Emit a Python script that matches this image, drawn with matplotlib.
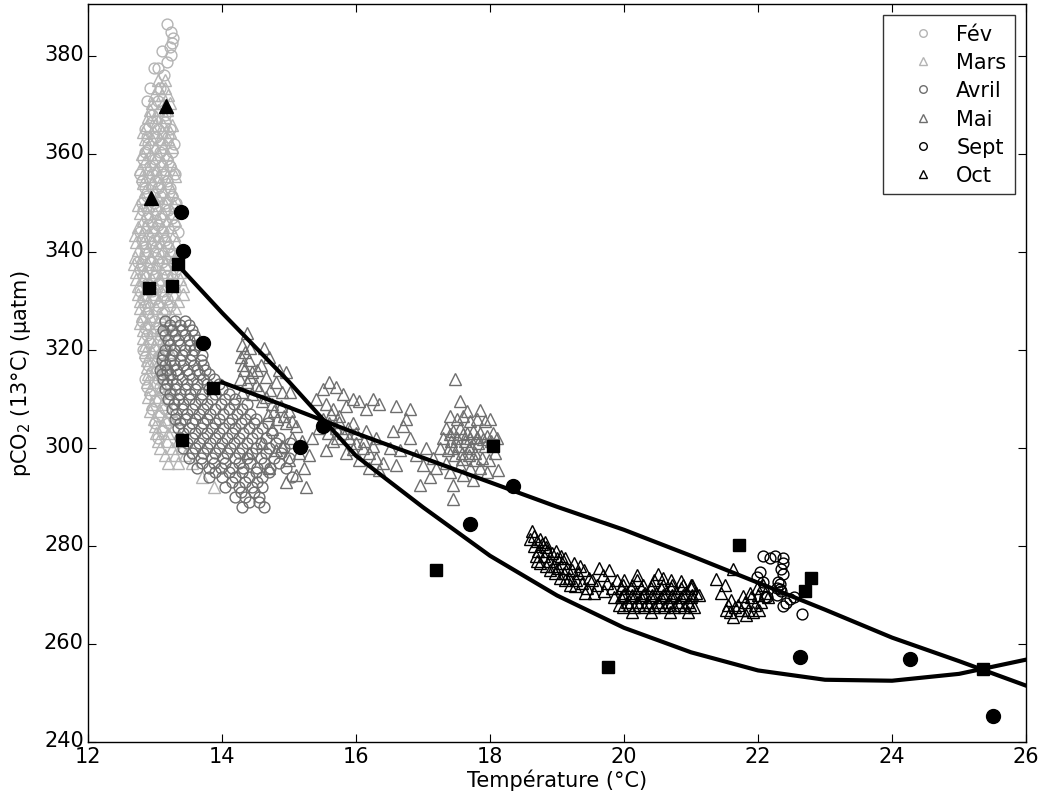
import numpy as np
import matplotlib
matplotlib.use('Agg')
from matplotlib import pyplot as plt
from matplotlib.transforms import ScaledTranslation

# ---- data (temperature degC, pCO2 uatm) ----
# clouds are given as rows: (pCO2, [temperatures on that row])
fev_rows = [
    (386.5, [13.18]), (384.8, [13.24]), (383.6, [13.27]), (382.6, [13.25]),
    (381.8, [13.22]), (381.0, [13.10]), (380.2, [13.24]), (378.7, [13.18]),
    (377.6, [12.99, 13.05]), (376.2, [13.13]), (373.5, [12.93, 13.08]),
    (370.9, [12.88, 13.05]),
    (368, [12.95, 13.15]), (365, [12.85, 13.05, 13.22]),
    (362, [12.90, 13.10, 13.28]), (359, [12.82, 13.00, 13.18]),
    (356, [12.78, 12.95, 13.12, 13.30]), (353, [12.85, 13.05, 13.22]),
    (350, [12.80, 12.98, 13.15, 13.32]), (347, [12.88, 13.08, 13.25]),
    (344, [12.78, 12.95, 13.12, 13.35]), (341, [12.85, 13.02, 13.20]),
    (338, [12.75, 12.92, 13.10, 13.28]), (335, [12.82, 13.00, 13.18]),
    (332, [12.78, 12.95, 13.12]), (329, [12.85, 13.05, 13.22]),
    (326, [12.80, 12.98, 13.15]), (323, [12.88, 13.08]),
    (320, [12.82, 13.00, 13.18]), (317, [12.90, 13.10]),
    (314, [12.85, 13.05]), (311, [12.92, 13.12]), (308, [12.95, 13.15]),
    (305, [13.00, 13.20]), (302, [13.05]),
    (366.5, [12.95, 13.15]), (363.5, [12.88, 13.02, 13.20]),
    (360.5, [12.85, 13.08, 13.25]), (357.5, [12.92, 13.10, 13.22]),
    (354.5, [12.80, 13.00, 13.18]), (351.5, [12.88, 13.08, 13.25]),
    (348.5, [12.82, 13.02, 13.20]), (345.5, [12.90, 13.05, 13.28]),
    (342.5, [12.80, 12.98, 13.15]), (339.5, [12.85, 13.05, 13.22]),
    (336.5, [12.78, 12.95, 13.15, 13.32]), (333.5, [12.88, 13.05, 13.22]),
    (330.5, [12.82, 13.00, 13.18]), (327.5, [12.90, 13.10]),
    (324.5, [12.85, 13.02, 13.20]), (321.5, [12.92, 13.12]),
    (318.5, [12.85, 13.05]), (315.5, [12.95, 13.15]), (312.5, [12.88, 13.08]),
    (309.5, [13.00, 13.20]), (306.5, [13.05]), (303.5, [13.10]),
]
mars_rows = [
    (375, [13.05, 13.15]), (372, [12.98, 13.10, 13.20]),
    (369, [12.92, 13.05, 13.18]), (366, [12.88, 13.00, 13.12, 13.25]),
    (363, [12.85, 12.95, 13.08, 13.20]), (360, [12.80, 12.92, 13.05, 13.18]),
    (357, [12.78, 12.90, 13.02, 13.15, 13.28]),
    (354, [12.82, 12.95, 13.08, 13.20]),
    (351, [12.80, 12.92, 13.05, 13.18, 13.30]),
    (348, [12.78, 12.88, 13.00, 13.12, 13.25]),
    (345, [12.75, 12.85, 12.98, 13.10, 13.22]),
    (342, [12.72, 12.82, 12.95, 13.08, 13.20, 13.32]),
    (339, [12.70, 12.80, 12.92, 13.05, 13.18, 13.30]),
    (336, [12.72, 12.85, 12.98, 13.10, 13.25, 13.38]),
    (333, [12.75, 12.88, 13.00, 13.15, 13.30, 13.42]),
    (330, [12.78, 12.90, 13.05, 13.20, 13.35]),
    (327, [12.80, 12.92, 13.08, 13.25]), (324, [12.82, 12.95, 13.10, 13.28]),
    (321, [12.85, 12.98, 13.12]), (318, [12.88, 13.00, 13.15]),
    (315, [12.90, 13.05, 13.20]), (312, [12.92, 13.08, 13.25]),
    (309, [12.95, 13.10]), (306, [12.98, 13.15, 13.30]),
    (303, [13.02, 13.20]), (300, [13.08, 13.25, 13.40]),
    (297, [13.20, 13.35, 13.55]), (294, [13.70]), (292, [13.88]),
    (373.5, [13.05, 13.15]), (370.5, [12.95, 13.12, 13.22]),
    (367.5, [12.90, 13.02, 13.15]), (364.5, [12.82, 12.98, 13.10, 13.22]),
    (361.5, [12.88, 13.00, 13.12, 13.25]), (358.5, [12.85, 12.98, 13.10, 13.22]),
    (355.5, [12.80, 12.92, 13.05, 13.18, 13.30]),
    (352.5, [12.85, 12.98, 13.12, 13.25]),
    (349.5, [12.75, 12.90, 13.02, 13.15, 13.28]),
    (346.5, [12.82, 12.95, 13.05, 13.18, 13.30]),
    (343.5, [12.70, 12.80, 12.92, 13.05, 13.15, 13.28]),
    (340.5, [12.75, 12.88, 13.00, 13.12, 13.25, 13.38]),
    (337.5, [12.68, 12.78, 12.90, 13.02, 13.15, 13.32]),
    (334.5, [12.72, 12.82, 12.95, 13.08, 13.22, 13.38]),
    (331.5, [12.75, 12.85, 12.98, 13.12, 13.28, 13.42]),
    (328.5, [12.78, 12.88, 13.02, 13.15, 13.30]),
    (325.5, [12.78, 12.90, 13.05, 13.20]), (322.5, [12.82, 12.92, 13.05, 13.20]),
    (319.5, [12.85, 12.95, 13.08, 13.22]), (316.5, [12.88, 13.02, 13.15]),
    (313.5, [12.88, 13.00, 13.15]), (310.5, [12.90, 13.05, 13.20]),
    (307.5, [12.92, 13.08, 13.22]), (304.5, [13.00, 13.12, 13.28]),
    (301.5, [13.05, 13.18, 13.35]), (298.5, [13.15, 13.30, 13.45]),
]
avril_rows = [
    (326, [13.15, 13.30, 13.45]), (324, [13.12, 13.25, 13.40, 13.55]),
    (322, [13.20, 13.35, 13.50, 13.62]), (320, [13.15, 13.28, 13.45, 13.58]),
    (318, [13.10, 13.22, 13.38, 13.52, 13.68]),
    (316, [13.08, 13.18, 13.32, 13.48, 13.62, 13.75]),
    (314, [13.12, 13.25, 13.40, 13.55, 13.72, 13.88]),
    (312, [13.15, 13.30, 13.45, 13.60, 13.80, 14.00]),
    (310, [13.20, 13.35, 13.50, 13.68, 13.85, 14.05, 14.20]),
    (308, [13.25, 13.40, 13.55, 13.72, 13.90, 14.10, 14.30]),
    (306, [13.30, 13.45, 13.60, 13.78, 13.95, 14.15, 14.35, 14.50]),
    (304, [13.35, 13.50, 13.68, 13.85, 14.02, 14.20, 14.40, 14.60]),
    (302, [13.38, 13.55, 13.72, 13.90, 14.08, 14.25, 14.45, 14.65, 14.85]),
    (300, [13.42, 13.60, 13.78, 13.95, 14.12, 14.30, 14.50, 14.70, 14.92]),
    (298, [13.50, 13.68, 13.85, 14.02, 14.20, 14.38, 14.58, 14.78, 15.00]),
    (296, [13.62, 13.80, 13.98, 14.15, 14.32, 14.52, 14.72, 14.95]),
    (294, [13.80, 14.00, 14.20, 14.40, 14.60, 15.05]),
    (292, [14.05, 14.25, 14.45, 14.60]), (290, [14.20, 14.35, 14.55]),
    (288, [14.30, 14.62]),
    (325, [13.22, 13.38, 13.50]), (323, [13.15, 13.30, 13.45, 13.58]),
    (321, [13.22, 13.38, 13.52, 13.65]), (319, [13.12, 13.25, 13.40, 13.55, 13.70]),
    (317, [13.15, 13.28, 13.42, 13.58, 13.72]),
    (315, [13.10, 13.22, 13.35, 13.50, 13.65, 13.80]),
    (313, [13.18, 13.32, 13.48, 13.62, 13.78, 13.95]),
    (311, [13.22, 13.38, 13.52, 13.70, 13.90, 14.10]),
    (309, [13.28, 13.42, 13.60, 13.78, 13.98, 14.18, 14.38]),
    (307, [13.32, 13.48, 13.65, 13.82, 14.02, 14.22, 14.42]),
    (305, [13.38, 13.55, 13.72, 13.90, 14.10, 14.28, 14.48, 14.68]),
    (303, [13.42, 13.60, 13.78, 13.95, 14.15, 14.32, 14.52, 14.75]),
    (301, [13.48, 13.65, 13.82, 14.00, 14.18, 14.38, 14.58, 14.80, 15.02]),
    (299, [13.55, 13.72, 13.90, 14.08, 14.25, 14.45, 14.65, 14.88]),
    (297, [13.70, 13.88, 14.05, 14.25, 14.42, 14.62, 14.85]),
    (295, [13.90, 14.10, 14.30, 14.50, 14.70]), (293, [14.15, 14.35, 14.52]),
    (291, [14.28, 14.48]), (289, [14.40, 14.55]),
]
mai_pts = [
    (14.37, 323.5), (14.30, 321), (14.42, 320.5), (14.28, 318.5), (14.40, 318),
    (14.33, 316), (14.45, 315.5), (14.27, 314), (14.38, 313.5), (14.50, 312.8),
    (14.30, 311.5), (14.45, 311), (14.62, 320.5), (14.70, 318.5), (14.58, 317),
    (14.85, 316), (14.95, 315.5), (14.65, 314.5), (14.80, 313.5), (14.55, 312),
    (14.72, 311.8), (14.90, 311.5), (15.02, 311.5), (14.60, 309.5), (14.75, 309),
    (14.88, 308.5), (15.00, 307.5), (14.68, 306.8), (14.82, 306), (14.95, 305),
    (15.10, 304.5), (14.75, 303.8), (15.05, 302), (15.20, 301.5), (14.90, 300.5),
    (15.15, 299), (15.30, 298.5), (15.22, 296), (15.10, 294.5), (15.25, 292),
    (14.60, 301), (14.40, 299), (14.80, 299.5), (15.00, 297.5), (14.95, 293),
    (14.70, 296), (14.35, 319.5), (14.32, 317), (14.42, 314.5), (14.52, 316),
    (14.66, 310.5), (14.78, 307.5), (14.92, 306.5), (15.05, 305.5),
    (15.40, 310), (15.50, 312), (15.60, 313.5), (15.70, 312.5), (15.80, 311),
    (15.55, 309), (15.65, 308), (15.85, 308.5), (15.95, 310), (16.05, 309.5),
    (16.15, 308), (16.25, 310), (16.35, 309), (15.50, 306), (15.60, 305),
    (15.70, 304), (15.80, 303), (15.90, 302), (16.00, 301), (16.10, 300),
    (16.20, 299), (16.30, 298), (16.40, 297), (15.75, 306.5), (15.95, 305),
    (16.15, 303.5), (16.30, 302), (15.45, 304), (15.65, 301.5), (16.05, 297.5),
    (16.20, 296), (16.35, 295.5), (15.85, 299), (16.50, 300), (16.60, 296.5),
    (16.55, 303.5), (16.70, 304.5), (16.80, 302), (16.65, 299.5), (16.90, 298.5),
    (17.00, 296.5), (17.10, 294), (17.05, 300), (16.95, 292.5), (16.75, 306),
    (16.60, 308.5), (16.80, 308), (15.35, 302), (15.55, 299.5),
    (15.62, 307), (15.75, 305.2), (15.88, 304), (16.00, 303), (16.12, 301.5),
    (16.25, 300.5), (15.58, 303), (15.72, 302), (15.95, 299.8),
    (17.48, 314), (17.55, 309.5), (17.40, 306.5), (17.50, 306), (17.60, 306.5),
    (17.70, 305.5), (17.80, 306), (17.92, 305.5), (18.00, 306), (17.35, 304),
    (17.45, 303.5), (17.55, 304), (17.65, 303), (17.75, 303.5), (17.85, 303),
    (17.95, 302.5), (18.05, 303), (17.30, 302), (17.42, 301.5), (17.52, 300.5),
    (17.62, 301.5), (17.72, 300.5), (17.82, 301), (17.92, 300.5), (18.02, 301.5),
    (18.10, 302), (17.25, 300), (17.38, 299.5), (17.48, 298.5), (17.58, 299),
    (17.68, 298.5), (17.78, 299), (17.88, 298), (17.98, 297.5), (18.08, 299),
    (17.15, 298), (17.35, 297), (17.55, 296.5), (17.70, 296), (17.85, 296),
    (17.95, 295), (18.12, 295.5), (17.20, 296), (17.40, 295), (17.60, 294.5),
    (17.45, 292.5), (17.45, 289.5), (17.75, 293.5), (17.65, 307.5), (17.85, 307.8),
    (17.40, 302.8), (17.50, 302), (17.60, 302.8), (17.70, 302), (17.80, 302.2),
    (17.90, 301.8), (17.45, 300), (17.58, 297.8), (17.68, 300), (17.78, 297.5),
]
sept_pts = [
    (22.08, 278.0), (22.18, 277.6), (22.25, 278.0), (22.38, 277.6), (22.37, 276.6),
    (22.35, 275.3), (22.37, 274.3), (22.03, 274.6), (21.98, 273.6), (22.08, 272.6),
    (22.30, 272.6), (22.33, 271.2), (22.28, 269.9), (22.35, 270.8), (22.48, 269.2),
    (22.53, 269.5), (22.37, 267.8), (22.42, 268.4), (22.13, 269.5), (22.65, 266.2),
    (22.28, 271.5), (22.33, 272.2), (22.10, 269.6),
]
oct_pts = [
    (18.60, 281.5), (18.65, 280), (18.70, 281), (18.72, 279), (18.78, 280.5),
    (18.80, 278), (18.85, 279), (18.88, 277), (18.92, 278.5), (18.95, 276),
    (19.00, 277.5), (19.02, 275.5), (19.08, 276.5), (19.10, 274.5), (19.15, 275.5),
    (19.18, 273.5), (19.22, 275), (19.28, 273), (19.32, 274.5), (19.38, 272.5),
    (18.68, 278), (18.75, 276.5), (18.90, 275), (19.05, 273.5), (19.20, 272),
    (18.62, 283), (18.82, 280.8), (19.12, 277.5), (19.40, 275), (19.48, 273.5),
    (18.66, 282), (18.74, 281.5), (18.84, 279.8), (18.98, 279), (19.06, 278),
    (19.25, 276.5), (19.35, 276), (18.70, 277), (18.83, 276), (18.97, 274.5),
    (19.12, 273), (19.27, 271.8), (19.42, 270.5),
    (19.45, 271.5), (19.52, 273), (19.60, 272), (19.68, 274), (19.75, 272.5),
    (19.55, 270.5), (19.70, 270.8), (19.82, 271.5), (19.90, 273), (19.62, 275.5),
    (19.78, 275), (19.85, 269.5),
    (20.20, 274), (20.50, 274.3), (20.58, 273.5), (20.85, 272.8), (21.00, 272),
    (21.38, 273.3), (21.63, 275.3), (21.45, 270.5), (21.50, 272), (21.55, 268),
    (21.58, 266.5), (21.62, 265.5), (21.52, 267), (21.60, 269),
    (21.75, 267), (21.80, 268.5), (21.85, 267), (21.90, 269.5), (21.95, 268),
    (22.00, 270), (22.05, 268.5), (22.10, 270.5), (21.82, 266), (21.92, 266.5),
    (22.02, 267), (21.88, 270.5), (21.98, 271.5), (22.08, 272), (21.70, 268),
    (21.78, 269.8), (22.15, 269.5), (21.65, 267.5),
]
oct_rows = [
    (273, [20.0, 20.2, 20.45, 20.7]),
    (272, [19.98, 20.12, 20.28, 20.42, 20.58, 20.72, 20.88, 21.02]),
    (271.5, [19.95, 20.1, 20.25, 20.4, 20.55, 20.7, 20.85, 21.0]),
    (270.5, [20.02, 20.18, 20.32, 20.48, 20.62, 20.78, 20.92, 21.08]),
    (270, [19.98, 20.12, 20.28, 20.42, 20.58, 20.72, 20.88, 21.02, 21.12]),
    (269.5, [19.95, 20.1, 20.25, 20.4, 20.55, 20.7, 20.85, 21.0]),
    (268.5, [20.05, 20.2, 20.35, 20.5, 20.65, 20.8, 20.95]),
    (268, [19.92, 20.08, 20.22, 20.38, 20.52, 20.68, 20.82, 20.98]),
    (267.5, [19.98, 20.15, 20.3, 20.45, 20.6, 20.75, 20.9, 21.05]),
    (266.5, [20.12, 20.4, 20.68, 20.95]),
]

# filled symbols (no legend entry)
dots_t = [13.39, 13.42, 13.71, 15.17, 15.51, 17.70, 18.34, 22.62, 24.27, 25.50]
dots_p = [348.2, 340.2, 321.4, 300.2, 304.5, 284.5, 292.2, 257.4, 256.9, 245.2]
sq_t = [13.34, 12.91, 13.26, 13.87, 13.41, 18.05, 17.19, 19.76, 21.71, 22.79, 22.70, 25.36]
sq_p = [337.5, 332.6, 333.0, 312.2, 301.7, 300.4, 275.1, 255.2, 280.1, 273.4, 270.8, 254.9]
tri_t = [13.17, 12.94]
tri_p = [369.7, 351.0]

# fitted curves
fit1_t = [13.33, 14.0, 15.0, 16.0, 17.0, 18.0, 19.0, 20.0, 21.0, 22.0, 23.0, 24.0, 25.0, 26.0]
fit1_p = [337.5, 327.6, 313.5, 298.4, 287.9, 278.0, 269.9, 263.3, 258.3, 254.6, 252.7, 252.5, 253.9, 256.8]
fit2_t = [14.0, 15.0, 16.0, 17.0, 18.0, 19.0, 20.0, 21.0, 22.0, 23.0, 24.0, 25.0, 26.0]
fit2_p = [313.4, 308.3, 303.0, 298.0, 293.0, 288.0, 283.3, 278.0, 272.5, 267.0, 261.3, 256.5, 251.5]


def rows_to_xy(rows):
    t = [x for y, xs in rows for x in xs]
    p = [y for y, xs in rows for x in xs]
    return np.array(t), np.array(p)


def pts_to_xy(pts):
    a = np.array(pts)
    return a[:, 0], a[:, 1]


def main():
    plt.rcParams['font.family'] = ['DejaVu Sans']
    fs = 15
    light = '#b4b4b4'
    mid = '#6e6e6e'

    fig = plt.figure(figsize=(10.44, 8.12), dpi=100)
    ax = fig.add_axes([0.0843, 0.085, 0.8985, 0.9088])

    circ_kw = dict(linestyle='none', markerfacecolor='none', markersize=7.8, markeredgewidth=1.0)
    tri_kw = dict(linestyle='none', markerfacecolor='none', markersize=8.6, markeredgewidth=1.0)
    t, p = rows_to_xy(fev_rows)
    ax.plot(t, p, 'o', color=light, label='Fév', **circ_kw)
    t, p = rows_to_xy(mars_rows)
    ax.plot(t, p, '^', color=light, label='Mars', **tri_kw)
    t, p = rows_to_xy(avril_rows)
    ax.plot(t, p, 'o', color=mid, label='Avril', **circ_kw)
    t, p = pts_to_xy(mai_pts)
    ax.plot(t, p, '^', color=mid, label='Mai', **tri_kw)
    t, p = pts_to_xy(sept_pts)
    ax.plot(t, p, 'o', color='black', label='Sept', **circ_kw)
    t, p = pts_to_xy(oct_pts)
    t2, p2 = rows_to_xy(oct_rows)
    ax.plot(np.concatenate([t, t2]), np.concatenate([p, p2]), '^', color='black',
            label='Oct', **tri_kw)

    ax.plot(fit1_t, fit1_p, color='black', linewidth=3)
    ax.plot(fit2_t, fit2_p, color='black', linewidth=3)

    ax.plot(dots_t, dots_p, 'o', color='black', markersize=10, linestyle='none')
    ax.plot(sq_t, sq_p, 's', color='black', markersize=8.5, linestyle='none')
    ax.plot(tri_t, tri_p, '^', color='black', markersize=10, linestyle='none')

    ax.set_xlim(12, 26)
    ax.set_ylim(240, 390.6)
    ax.set_xticks(np.arange(12, 27, 2))
    ax.set_yticks(np.arange(240, 381, 20))
    ax.tick_params(direction='in', length=6, top=True, right=True, labelsize=fs)
    ax.tick_params(axis='x', pad=3)
    ax.tick_params(axis='y', pad=3)
    # y labels sit a little above their ticks, as in the original
    shift = ScaledTranslation(0, 3 / 72, fig.dpi_scale_trans)
    for lab in ax.get_yticklabels():
        lab.set_transform(lab.get_transform() + shift)
    for s in ax.spines.values():
        s.set_linewidth(1.0)

    ax.set_xlabel('Température (°C)', fontsize=fs, labelpad=2)
    ax.set_ylabel('pCO$_2$ (13°C) (µatm)', fontsize=fs, labelpad=8)

    leg = ax.legend(loc='upper right', fontsize=fs, markerscale=0.7, frameon=True,
                    fancybox=False, edgecolor='black', labelspacing=0.4,
                    handlelength=3.0, handletextpad=0.1, borderpad=0.4,
                    borderaxespad=0.55)
    leg.get_frame().set_linewidth(1.0)

    fig.savefig('out.png', dpi=100)


if __name__ == '__main__':
    main()
